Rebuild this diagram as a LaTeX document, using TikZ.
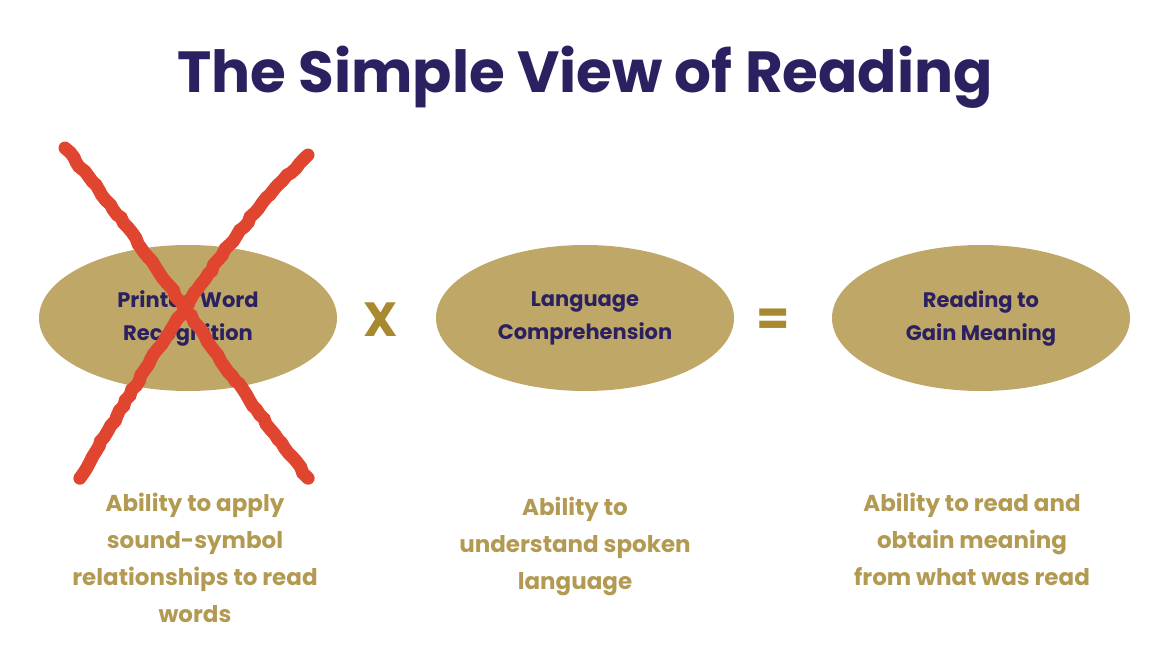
\documentclass[tikz,border=0pt]{standalone}
\usepackage{fontspec}
\setmainfont{Poppins}
\usetikzlibrary{decorations.pathmorphing}
\definecolor{navy}{HTML}{2B2160}
\definecolor{oval}{HTML}{BFA867}
\definecolor{goldtxt}{HTML}{B39A52}
\definecolor{goldop}{HTML}{A8892F}
\definecolor{redx}{HTML}{E0452F}
\begin{document}
\begin{tikzpicture}[x=1pt,y=-1pt,
  ov/.style={ellipse,fill=oval,minimum width=298pt,minimum height=146pt,inner sep=0pt},
  ovtxt/.style={font=\fontsize{21}{33}\selectfont\bfseries,text=navy,align=center},
  desc/.style={font=\fontsize{23}{37}\selectfont\bfseries,text=goldtxt,align=center},
  op/.style={font=\fontsize{48}{50}\selectfont\bfseries,text=goldop},
  cross/.style={draw=redx,line width=13pt,line cap=round,decorate,decoration={random steps,segment length=6pt,amplitude=1.2pt}}]
\useasboundingbox (0,0) rectangle (1170,660);
\usetikzlibrary{shapes.geometric}
\node[font=\fontsize{58}{60}\selectfont\bfseries,text=navy] (title) at (585,77) {The Simple View of Reading};
\node[ellipse,fill=oval,minimum width=298pt,minimum height=146pt] (o1) at (188,318) {};
\node[ellipse,fill=oval,minimum width=298pt,minimum height=146pt] (o2) at (585,318) {};
\node[ellipse,fill=oval,minimum width=298pt,minimum height=146pt] (o3) at (981,318) {};
\node[ovtxt] (t1) at (o1) {Printed Word\\Recognition};
\node[ovtxt] (t2) at (o2) {Language\\Comprehension};
\node[ovtxt] (t3) at (o3) {Reading to\\Gain Meaning};
\node[op] (x) at (381,320) {X};
\node[op] (eq) at (773,322) {=};
\node[desc,anchor=north] (d1) at (195,490) {Ability to apply\\sound-symbol\\relationships to read\\words};
\node[desc,anchor=north] (d2) at (575,494) {Ability to\\understand spoken\\language};
\node[desc,anchor=north] (d3) at (972,490) {Ability to read and\\obtain meaning\\from what was read};
\coordinate (a1) at (65,148); \coordinate (a2) at (308,478);
\coordinate (b1) at (308,155); \coordinate (b2) at (80,478);
\draw[cross] (a1) .. controls (150,250) and (230,380) .. (a2);
\draw[cross] (b1) .. controls (220,240) and (150,360) .. (b2);
\end{tikzpicture}
\end{document}
